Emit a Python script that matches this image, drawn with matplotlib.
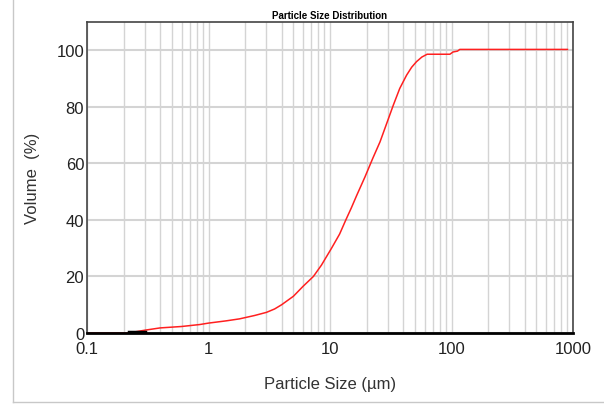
import numpy as np
import matplotlib.pyplot as plt
from matplotlib.ticker import FixedLocator, LogLocator, NullFormatter

# Cumulative volume curve
size_um = [0.1, 0.22, 0.3, 0.4, 0.6, 0.85, 1.0, 1.4, 1.8, 2.4, 3.0, 3.5, 4.0, 5.0,
           6.0, 7.3, 8.5, 10.3, 12.0, 13.5, 15.0, 16.6, 19.4, 22.5, 25.8,
           29.5, 33.2, 37.5, 42.7, 47.0, 51.6, 57.0, 63.0, 97.0, 103.0,
           112.0, 117.0, 900.0]
volume_pct = [0.0, 0.0, 1.0, 1.8, 2.3, 3.0, 3.5, 4.3, 5.0, 6.2, 7.3, 8.5, 10.0, 13.0,
              16.5, 20.0, 24.0, 30.0, 35.0, 40.0, 44.3, 48.7, 55.2, 61.8, 67.6,
              74.5, 80.6, 86.5, 91.2, 94.0, 96.0, 97.6, 98.6, 98.6, 99.4,
              99.7, 100.3, 100.3]
black_seg = [0.22, 0.3]

x_ticks = [0.1, 1, 10, 100, 1000]
x_tick_labels = ['0.1', '1', '10', '100', '1000']
y_ticks = [0, 20, 40, 60, 80, 100]

plt.rcParams['font.family'] = ['Liberation Sans', 'DejaVu Sans']

fig = plt.figure(figsize=(6.04, 4.06), dpi=100)
ax = fig.add_axes([87 / 604, 1 - 334 / 406, 486 / 604, 311 / 406])

ax.set_xscale('log')
ax.set_xlim(0.1, 1000)
ax.set_ylim(0, 110)

ax.xaxis.set_major_locator(FixedLocator(x_ticks))
ax.xaxis.set_minor_locator(LogLocator(base=10, subs=np.arange(2, 10)))
ax.xaxis.set_minor_formatter(NullFormatter())
ax.set_xticks(x_ticks)
ax.set_xticklabels(x_tick_labels)
ax.set_yticks(y_ticks)

ax.grid(True, which='both', axis='x', color='#d4d4d4', lw=1)
ax.grid(True, which='major', axis='y', color='#d4d4d4', lw=1.5)
ax.set_axisbelow(True)

ax.plot(size_um, volume_pct, color='#ff2020', lw=1.1)
ax.plot(black_seg, [0.3, 0.3], color='black', lw=2.5)

ax.tick_params(which='both', length=0)
ax.tick_params(axis='x', pad=6)
ax.tick_params(axis='y', pad=2)
for lab in ax.get_xticklabels() + ax.get_yticklabels():
    lab.set_fontsize(12)
    lab.set_color('#222222')

for side in ['top', 'left', 'right']:
    ax.spines[side].set_color('#444444')
    ax.spines[side].set_linewidth(1.2)
ax.spines['bottom'].set_color('black')
ax.spines['bottom'].set_linewidth(2)

ax.set_title('Particle Size Distribution', fontsize=7, fontweight='bold', pad=3)
ax.set_xlabel('Particle Size (µm)', fontsize=12, color='#333333', labelpad=14)
ax.set_ylabel('Volume  (%)', fontsize=12, color='#333333', labelpad=12)

# outer frame lines
fig.add_artist(plt.Line2D([13 / 604, 13 / 604], [1 - 403 / 406, 1.0], color='#c8c8c8', lw=1))
fig.add_artist(plt.Line2D([13 / 604, 1.0], [1 - 403 / 406, 1 - 403 / 406], color='#c8c8c8', lw=1))

fig.savefig('out.png', dpi=100)
